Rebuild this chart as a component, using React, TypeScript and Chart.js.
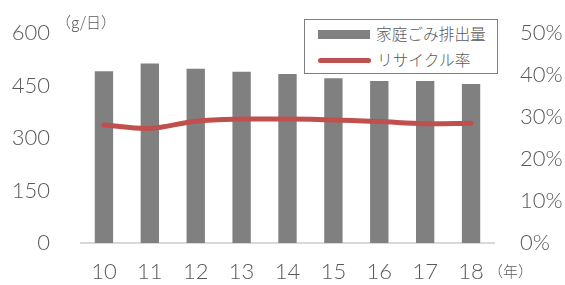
import React, { useEffect, useRef } from "react";
import { Chart, registerables } from "chart.js";

Chart.register(...registerables);

const categories = ["10", "11", "12", "13", "14", "15", "16", "17", "18"];
const wasteAmount = [491, 513, 498, 489, 483, 471, 463, 463, 454];
const recycleRate = [28.1, 27.3, 29.0, 29.5, 29.5, 29.3, 28.9, 28.4, 28.5];
const leftTicks = [0, 150, 300, 450, 600];
const rightTicks = [0, 10, 20, 30, 40, 50];

const FONT = "'Noto Sans CJK JP', 'Noto Sans', sans-serif";
const TICK_FONT = "Lato, 'Noto Sans CJK JP', sans-serif";
const TEXT = "#595959";

export default function App() {
  const ref = useRef<HTMLCanvasElement | null>(null);

  useEffect(() => {
    if (!ref.current) return;
    const tickFont = { family: TICK_FONT, size: 22, weight: 300 as any };
    const chart = new Chart(ref.current, {
      type: "bar",
      data: {
        labels: categories,
        datasets: [
          {
            type: "line",
            label: "リサイクル率",
            data: recycleRate,
            yAxisID: "y2",
            borderColor: "#C0504D",
            borderWidth: 5,
            borderCapStyle: "round",
            pointRadius: 0,
            tension: 0.35,
            order: 0,
          } as any,
          {
            type: "bar",
            label: "家庭ごみ排出量",
            data: wasteAmount,
            yAxisID: "y",
            backgroundColor: "#808080",
            categoryPercentage: 1,
            barPercentage: 0.4,
            order: 1,
          },
        ],
      },
      options: {
        animation: false,
        responsive: false,
        layout: { padding: { top: 33, left: 0, right: 0, bottom: 0 } },
        plugins: { legend: { display: false }, tooltip: { enabled: false } },
        scales: {
          x: {
            offset: true,
            grid: { display: false, drawTicks: false },
            border: { display: true, color: "#D9D9D9", width: 2 },
            ticks: { color: TEXT, font: tickFont, padding: 16 },
            afterFit: (s: any) => {
              s.height = 42;
              s.paddingLeft = 0;
              s.paddingRight = 0;
            },
          },
          y: {
            position: "left",
            min: 0,
            max: 600,
            afterBuildTicks: (s: any) => {
              s.ticks = leftTicks.map((v) => ({ value: v }));
            },
            grid: { display: false, drawTicks: false },
            border: { display: false },
            ticks: { color: TEXT, font: tickFont, padding: 31 },
            afterFit: (s: any) => {
              s.width = 81;
              s.paddingTop = 0;
              s.paddingBottom = 0;
            },
          },
          y2: {
            position: "right",
            min: 0,
            max: 50,
            afterBuildTicks: (s: any) => {
              s.ticks = rightTicks.map((v) => ({ value: v }));
            },
            grid: { display: false, drawTicks: false },
            border: { display: false },
            ticks: {
              color: TEXT,
              font: tickFont,
              padding: 26,
              callback: (v: any) => `${v}%`,
            },
            afterFit: (s: any) => {
              s.width = 71;
              s.paddingTop = 0;
              s.paddingBottom = 0;
            },
          },
        },
      },
    });
    return () => chart.destroy();
  }, []);

  return (
    <div
      style={{
        position: "fixed",
        left: 0,
        top: 0,
        width: 565,
        height: 285,
        background: "#fff",
        fontFamily: FONT,
        color: TEXT,
      }}
    >
      <canvas ref={ref} width={565} height={285} style={{ display: "block" }} />
      <div
        style={{
          position: "absolute",
          left: 56,
          top: 13,
          fontSize: 15,
          lineHeight: "17px",
          whiteSpace: "nowrap",
          fontWeight: 300,
        }}
      >
        （g/日）
      </div>
      <div
        style={{
          position: "absolute",
          left: 488,
          top: 262,
          fontSize: 15,
          lineHeight: "17px",
          whiteSpace: "nowrap",
          fontWeight: 300,
        }}
      >
        （年）
      </div>
      <div
        style={{
          position: "absolute",
          left: 304,
          top: 19,
          width: 192,
          height: 53,
          border: "1.5px solid #7F7F7F",
          background: "#fff",
          fontSize: 15.7,
          fontWeight: 300,
          whiteSpace: "nowrap",
        }}
      >
        <div style={{ position: "absolute", left: 13, top: 10, width: 52, height: 9, background: "#808080" }} />
        <div style={{ position: "absolute", left: 71, top: 4, lineHeight: "20px" }}>家庭ごみ排出量</div>
        <div
          style={{
            position: "absolute",
            left: 13,
            top: 38,
            width: 53,
            height: 5,
            borderRadius: 3,
            background: "#C0504D",
          }}
        />
        <div style={{ position: "absolute", left: 72, top: 30, lineHeight: "20px" }}>リサイクル率</div>
      </div>
    </div>
  );
}
